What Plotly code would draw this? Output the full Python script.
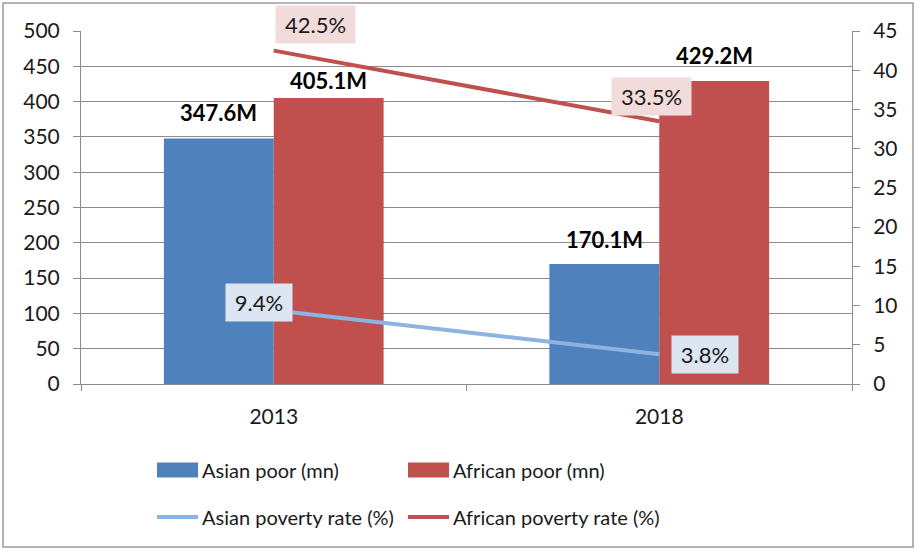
import plotly.graph_objects as go

years = ["2013", "2018"]
asian_poor = [347.6, 170.1]
african_poor = [405.1, 429.2]
asian_rate = [9.4, 3.8]
african_rate = [42.5, 33.5]
series_names = ["Asian poor (mn)", "African poor (mn)",
                "Asian poverty rate (%)", "African poverty rate (%)"]
left_ticks = list(range(0, 501, 50))
right_ticks = list(range(0, 46, 5))

BLUE = "#4F81BD"
RED = "#C0504D"
LIGHT_BLUE = "#8DB3E2"
GRID = "#8C8C8C"
TEXT = "#1a1a1a"
FONT = "Lato"

fig = go.Figure()
fig.add_trace(go.Bar(x=years, y=asian_poor, name=series_names[0],
                     marker=dict(color=BLUE, line=dict(width=0))))
fig.add_trace(go.Bar(x=years, y=african_poor, name=series_names[1],
                     marker=dict(color=RED, line=dict(width=0))))
fig.add_trace(go.Scatter(x=years, y=asian_rate, name=series_names[2], yaxis="y2",
                         mode="lines", line=dict(color=LIGHT_BLUE, width=4)))
fig.add_trace(go.Scatter(x=years, y=african_rate, name=series_names[3], yaxis="y2",
                         mode="lines", line=dict(color=RED, width=4)))

annotations = []
# value labels above the bars (x given as category index)
bar_shift = [(-55, asian_poor, [26, 24]), (55, african_poor, [18, 25])]
for xs, vals, ys in bar_shift:
    for i, (v, dy) in enumerate(zip(vals, ys)):
        annotations.append(dict(x=i, y=v, xref="x", yref="y", xshift=xs, yshift=dy,
                                text=f"<b>{v:.1f}M</b>", showarrow=False,
                                font=dict(family=FONT, size=22, color="#000000")))

# boxed labels on the rate lines
rate_labels = [
    (asian_rate, "#DCE6F2", [(-15, 8), (46, 0)]),
    (african_rate, "#F2DCDB", [(42, 26), (-8, 25)]),
]
for vals, bg, shifts in rate_labels:
    for i, (v, (dx, dy)) in enumerate(zip(vals, shifts)):
        label = f"{v}%"
        annotations.append(dict(x=i, y=v, xref="x", yref="y2", xshift=dx, yshift=dy,
                                text=label, showarrow=False, bgcolor=bg, borderpad=5,
                                width=13 * len(label) + 4,
                                font=dict(family=FONT, size=22, color=TEXT)))

# legend drawn as swatches and labels below the plot
shapes = []
leg_cols = [(157 - 81) / 771, (408 - 81) / 771]
leg_rows = [(384 - 470) / 353, (384 - 517) / 353]
sw = 41 / 771
for i, name in enumerate(series_names):
    col, row = i % 2, i // 2
    x0 = leg_cols[col]
    y = leg_rows[row]
    color = [BLUE, RED, LIGHT_BLUE, RED][i]
    if row == 0:
        shapes.append(dict(type="rect", xref="paper", yref="paper", x0=x0, x1=x0 + sw,
                           y0=y - 7.5 / 353, y1=y + 7.5 / 353,
                           fillcolor=color, line=dict(width=0)))
    else:
        shapes.append(dict(type="line", xref="paper", yref="paper", x0=x0, x1=x0 + sw,
                           y0=y, y1=y, line=dict(color=color, width=4)))
    annotations.append(dict(x=x0 + sw + 2 / 771, y=y, xref="paper", yref="paper",
                            xanchor="left", yanchor="middle", text=name, showarrow=False,
                            font=dict(family=FONT, size=20, color=TEXT)))

# outer chart border
shapes.append(dict(type="rect", xref="paper", yref="paper",
                   x0=-78 / 771, x1=832 / 771, y0=-163 / 353, y1=381 / 353,
                   line=dict(color="#9a9a9a", width=1.5), layer="below"))

fig.update_layout(
    width=917, height=550,
    margin=dict(l=81, r=65, t=31, b=166),
    paper_bgcolor="white", plot_bgcolor="white",
    barmode="group", bargap=0.43, bargroupgap=0,
    showlegend=False,
    font=dict(family=FONT, size=21, color=TEXT),
    xaxis=dict(type="category", categoryorder="array", categoryarray=years,
               range=[-0.5, len(years) - 0.5], autorange=False,
               showline=True, linecolor=GRID, linewidth=1,
               ticks="outside", tickson="boundaries", ticklen=6, tickcolor=GRID,
               ticklabelstandoff=14, showgrid=False, tickangle=0,
               tickfont=dict(family=FONT, size=21, color=TEXT)),
    yaxis=dict(range=[0, 500], tickvals=left_ticks, showgrid=True, gridcolor=GRID,
               gridwidth=1, showline=True, linecolor=GRID, linewidth=1,
               ticks="outside", ticklen=7, tickcolor=GRID, ticklabelstandoff=9,
               zeroline=False, tickfont=dict(family=FONT, size=21, color=TEXT)),
    yaxis2=dict(range=[0, 45], tickvals=right_ticks, overlaying="y", side="right",
                showgrid=False, showline=True, linecolor=GRID, linewidth=1,
                ticks="outside", ticklen=7, tickcolor=GRID, ticklabelstandoff=9,
                zeroline=False, tickfont=dict(family=FONT, size=21, color=TEXT)),
    annotations=annotations,
    shapes=shapes,
)

fig.write_html("out.html")
